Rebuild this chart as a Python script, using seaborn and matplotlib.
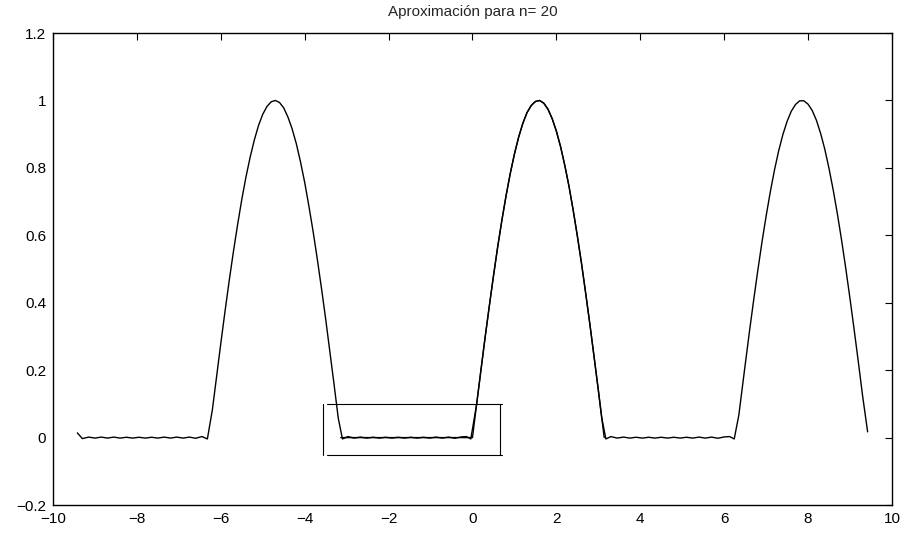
import matplotlib
matplotlib.use("Agg")
import matplotlib.pyplot as plt
import seaborn as sns
import pandas as pd

# approximation curve (flat parts carry the small ripples)
x_vals = [
    -9.42, -9.30, -9.15, -9.00, -8.85, -8.70, -8.55, -8.40, -8.25, -8.10, -7.95,
    -7.80, -7.65, -7.50, -7.35, -7.20, -7.05, -6.90, -6.75, -6.60, -6.45, -6.32,
    -6.2, -6.1, -6.0, -5.9, -5.8, -5.7, -5.6, -5.5, -5.4, -5.3, -5.2, -5.1, -5.0,
    -4.9, -4.8, -4.7, -4.6, -4.5, -4.4, -4.3, -4.2, -4.1, -4.0, -3.9, -3.8, -3.7,
    -3.6, -3.5, -3.4, -3.3, -3.2,
    -3.10, -2.97, -2.82, -2.67, -2.52, -2.37, -2.22, -2.07, -1.92, -1.77, -1.62,
    -1.47, -1.32, -1.17, -1.02, -0.87, -0.72, -0.57, -0.42, -0.27, -0.14, -0.04,
    0.1, 0.2, 0.3, 0.4, 0.5, 0.6, 0.7, 0.8, 0.9, 1.0, 1.1, 1.2, 1.3, 1.4, 1.5,
    1.6, 1.7, 1.8, 1.9, 2.0, 2.1, 2.2, 2.3, 2.4, 2.5, 2.6, 2.7, 2.8, 2.9, 3.0, 3.08,
    3.18, 3.30, 3.45, 3.60, 3.75, 3.90, 4.05, 4.20, 4.35, 4.50, 4.65, 4.80, 4.95,
    5.10, 5.25, 5.40, 5.55, 5.70, 5.85, 6.00, 6.13, 6.24,
    6.35, 6.4, 6.5, 6.6, 6.7, 6.8, 6.9, 7.0, 7.1, 7.2, 7.3, 7.4, 7.5, 7.6, 7.7,
    7.8, 7.9, 8.0, 8.1, 8.2, 8.3, 8.4, 8.5, 8.6, 8.7, 8.8, 8.9, 9.0, 9.1, 9.2,
    9.3, 9.42,
]
y_vals = [
    0.014, -0.003, 0.0015, -0.0015, 0.0015, -0.0015, 0.0015, -0.0015, 0.001, -0.0015, 0.001,
    -0.0015, 0.001, -0.0015, 0.0015, -0.0015, 0.0015, -0.0015, 0.0015, -0.002, 0.003, -0.004,
    0.083, 0.182, 0.279, 0.374, 0.465, 0.551, 0.631, 0.706, 0.773, 0.832, 0.883, 0.926, 0.959,
    0.982, 0.996, 1.000, 0.994, 0.978, 0.951, 0.916, 0.872, 0.818, 0.757, 0.687, 0.612, 0.530,
    0.443, 0.352, 0.256, 0.158, 0.058,
    -0.004, 0.003, -0.0015, 0.0015, -0.0015, 0.001, -0.0015, 0.001, -0.0015, 0.001, -0.0015,
    0.001, -0.0015, 0.001, -0.0015, 0.0015, -0.0015, 0.0015, -0.002, 0.002, 0.003, -0.004,
    0.100, 0.199, 0.296, 0.389, 0.479, 0.565, 0.644, 0.717, 0.783, 0.841, 0.891, 0.932, 0.964,
    0.985, 0.997, 1.000, 0.992, 0.974, 0.946, 0.909, 0.863, 0.808, 0.746, 0.675, 0.598, 0.516,
    0.427, 0.335, 0.239, 0.141, 0.060,
    -0.004, 0.003, -0.0015, 0.0015, -0.0015, 0.001, -0.0015, 0.001, -0.0015, 0.001, -0.0015,
    0.001, -0.0015, 0.001, -0.0015, 0.0015, -0.0015, 0.0015, -0.002, 0.002, 0.003, -0.004,
    0.067, 0.117, 0.215, 0.312, 0.405, 0.494, 0.579, 0.657, 0.729, 0.794, 0.851, 0.899, 0.938,
    0.968, 0.988, 0.999, 0.999, 0.989, 0.970, 0.941, 0.902, 0.855, 0.798, 0.734, 0.663, 0.585,
    0.501, 0.412, 0.319, 0.223, 0.124, 0.017,
]

# exact function drawn over [-pi, pi]
exact_x = [-3.14, 0.0, 0.1, 0.2, 0.3, 0.4, 0.5, 0.6, 0.7, 0.8, 0.9, 1.0, 1.1, 1.2,
           1.3, 1.4, 1.5, 1.6, 1.7, 1.8, 1.9, 2.0, 2.1, 2.2, 2.3, 2.4, 2.5, 2.6,
           2.7, 2.8, 2.9, 3.0, 3.14]
exact_y = [0.0, 0.0, 0.100, 0.199, 0.296, 0.389, 0.479, 0.565, 0.644, 0.717, 0.783,
           0.841, 0.891, 0.932, 0.964, 0.985, 0.997, 1.000, 0.992, 0.974, 0.946,
           0.909, 0.863, 0.808, 0.746, 0.675, 0.598, 0.516, 0.427, 0.335, 0.239,
           0.141, 0.0]

# box drawn around the interval
box_left = -3.57
box_start = -3.47
box_end = 0.70
box_right = 0.66
box_low = -0.052
box_high = 0.10

x_ticks = [-10, -8, -6, -4, -2, 0, 2, 4, 6, 8, 10]
y_ticks = [-0.2, 0, 0.2, 0.4, 0.6, 0.8, 1, 1.2]
y_labels = ["\u22120.2", "0", "0.2", "0.4", "0.6", "0.8", "1", "1.2"]
x_labels = [str(t).replace("-", "\u2212") for t in x_ticks]

sns.set_style("white")
plt.rcParams["font.family"] = ["Liberation Sans", "DejaVu Sans"]

fig = plt.figure(figsize=(9.06, 5.33), dpi=100)
ax = fig.add_axes([0.0585, 0.0525, 0.926, 0.8855])

df = pd.DataFrame({"x": x_vals, "y": y_vals})
sns.lineplot(data=df, x="x", y="y", ax=ax, color="black", linewidth=1.0,
             sort=False, estimator=None)
ex = pd.DataFrame({"x": exact_x, "y": exact_y})
sns.lineplot(data=ex, x="x", y="y", ax=ax, color="black", linewidth=1.0,
             sort=False, estimator=None)

# the box
ax.plot([box_left, box_left], [box_low, box_high], color="black", lw=0.8)
ax.plot([box_start, box_end], [box_high, box_high], color="black", lw=0.8)
ax.plot([box_start, box_end], [box_low, box_low], color="black", lw=0.8)
ax.plot([box_right, box_right], [box_low, box_high], color="black", lw=0.8)

ax.set_xlim(-10, 10)
ax.set_ylim(-0.2, 1.2)
ax.set_xticks(x_ticks)
ax.set_xticklabels(x_labels)
ax.set_yticks(y_ticks)
ax.set_yticklabels(y_labels)
ax.set_xlabel("")
ax.set_ylabel("")
ax.tick_params(direction="in", length=5, width=0.8, labelsize=11, colors="black",
               top=True, right=True, pad=5)
for s in ax.spines.values():
    s.set_visible(True)
    s.set_color("black")
    s.set_linewidth(1.0)
ax.set_title("Aproximación para n= 20", fontsize=11, pad=12)

fig.savefig("out.png", dpi=100)
